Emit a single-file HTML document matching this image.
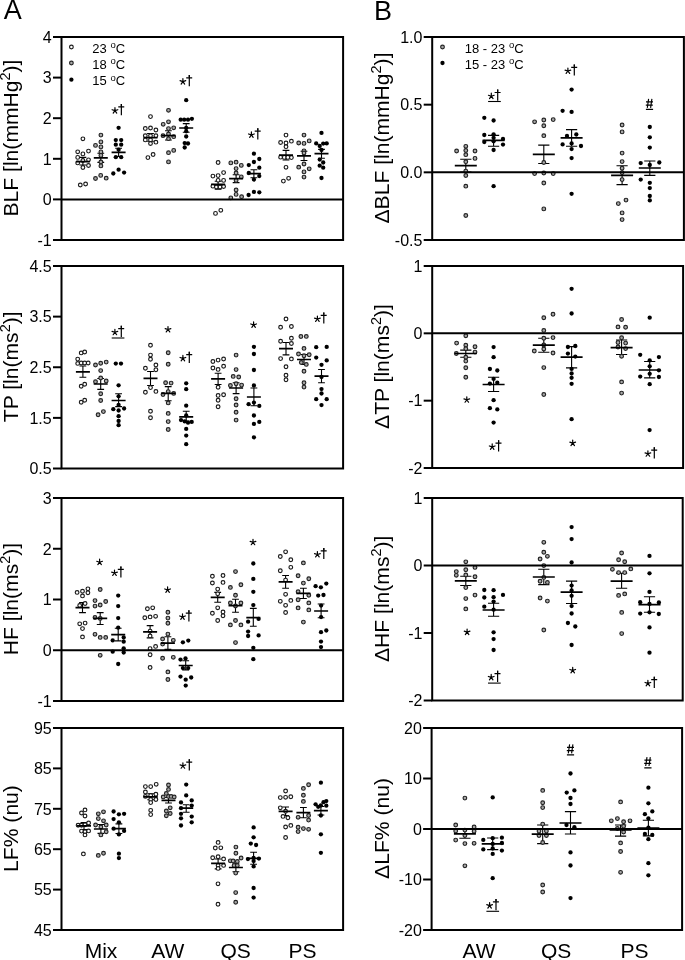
<!DOCTYPE html>
<html><head><meta charset="utf-8"><style>
html,body{margin:0;padding:0;background:#fff;}
svg{display:block;will-change:transform;}
</style></head><body>
<svg width="685" height="960" viewBox="0 0 685 960" font-family='"Liberation Sans", sans-serif'>
<rect width="685" height="960" fill="#fff"/>
<g fill="none"><path d="M82.9 157.4V165.0M79.5 157.4H86.3M79.5 165.0H86.3" stroke="#000" stroke-width="1.1" fill="none"/><path d="M100.8 153.2V162.4M97.4 153.2H104.2M97.4 162.4H104.2" stroke="#000" stroke-width="1.1" fill="none"/><path d="M118.6 148.3V156.5M115.2 148.3H122.0M115.2 156.5H122.0" stroke="#000" stroke-width="1.1" fill="none"/><path d="M150.5 133.5V141.3M147.1 133.5H153.9M147.1 141.3H153.9" stroke="#000" stroke-width="1.1" fill="none"/><path d="M168.4 130.8V140.0M165.0 130.8H171.8M165.0 140.0H171.8" stroke="#000" stroke-width="1.1" fill="none"/><path d="M186.2 123.6V132.2M182.8 123.6H189.6M182.8 132.2H189.6" stroke="#000" stroke-width="1.1" fill="none"/><path d="M218.1 181.3V189.2M214.7 181.3H221.5M214.7 189.2H221.5" stroke="#000" stroke-width="1.1" fill="none"/><path d="M236.1 174.7V182.6M232.7 174.7H239.5M232.7 182.6H239.5" stroke="#000" stroke-width="1.1" fill="none"/><path d="M253.9 169.7V177.8M250.5 169.7H257.3M250.5 177.8H257.3" stroke="#000" stroke-width="1.1" fill="none"/><path d="M286.0 150.4V160.0M282.6 150.4H289.4M282.6 160.0H289.4" stroke="#000" stroke-width="1.1" fill="none"/><path d="M304.0 151.3V160.5M300.6 151.3H307.4M300.6 160.5H307.4" stroke="#000" stroke-width="1.1" fill="none"/><path d="M321.5 149.4V158.3M318.1 149.4H324.9M318.1 158.3H324.9" stroke="#000" stroke-width="1.1" fill="none"/><path d="M82.9 366.0V377.3M79.5 366.0H86.3M79.5 377.3H86.3" stroke="#000" stroke-width="1.1" fill="none"/><path d="M100.7 378.5V389.4M97.3 378.5H104.1M97.3 389.4H104.1" stroke="#000" stroke-width="1.1" fill="none"/><path d="M118.6 393.8V406.6M115.2 393.8H122.0M115.2 406.6H122.0" stroke="#000" stroke-width="1.1" fill="none"/><path d="M150.5 371.5V385.5M147.1 371.5H153.9M147.1 385.5H153.9" stroke="#000" stroke-width="1.1" fill="none"/><path d="M168.2 386.6V400.8M164.8 386.6H171.6M164.8 400.8H171.6" stroke="#000" stroke-width="1.1" fill="none"/><path d="M186.2 411.3V421.0M182.8 411.3H189.6M182.8 421.0H189.6" stroke="#000" stroke-width="1.1" fill="none"/><path d="M218.1 373.2V384.5M214.7 373.2H221.5M214.7 384.5H221.5" stroke="#000" stroke-width="1.1" fill="none"/><path d="M236.1 382.7V393.6M232.7 382.7H239.5M232.7 393.6H239.5" stroke="#000" stroke-width="1.1" fill="none"/><path d="M253.9 388.0V405.7M250.5 388.0H257.3M250.5 405.7H257.3" stroke="#000" stroke-width="1.1" fill="none"/><path d="M286.0 342.5V354.9M282.6 342.5H289.4M282.6 354.9H289.4" stroke="#000" stroke-width="1.1" fill="none"/><path d="M304.0 354.5V364.5M300.6 354.5H307.4M300.6 364.5H307.4" stroke="#000" stroke-width="1.1" fill="none"/><path d="M321.5 369.5V382.7M318.1 369.5H324.9M318.1 382.7H324.9" stroke="#000" stroke-width="1.1" fill="none"/><path d="M82.5 602.6V612.6M79.1 602.6H85.9M79.1 612.6H85.9" stroke="#000" stroke-width="1.1" fill="none"/><path d="M100.2 612.6V624.5M96.8 612.6H103.6M96.8 624.5H103.6" stroke="#000" stroke-width="1.1" fill="none"/><path d="M118.2 628.2V640.9M114.8 628.2H121.6M114.8 640.9H121.6" stroke="#000" stroke-width="1.1" fill="none"/><path d="M150.1 625.6V637.9M146.7 625.6H153.5M146.7 637.9H153.5" stroke="#000" stroke-width="1.1" fill="none"/><path d="M167.9 636.8V649.4M164.5 636.8H171.3M164.5 649.4H171.3" stroke="#000" stroke-width="1.1" fill="none"/><path d="M185.7 660.7V669.9M182.3 660.7H189.1M182.3 669.9H189.1" stroke="#000" stroke-width="1.1" fill="none"/><path d="M217.7 592.4V602.3M214.3 592.4H221.1M214.3 602.3H221.1" stroke="#000" stroke-width="1.1" fill="none"/><path d="M235.5 599.3V612.3M232.1 599.3H238.9M232.1 612.3H238.9" stroke="#000" stroke-width="1.1" fill="none"/><path d="M253.3 608.4V626.3M249.9 608.4H256.7M249.9 626.3H256.7" stroke="#000" stroke-width="1.1" fill="none"/><path d="M285.6 575.5V588.2M282.2 575.5H289.0M282.2 588.2H289.0" stroke="#000" stroke-width="1.1" fill="none"/><path d="M303.4 588.3V598.5M300.0 588.3H306.8M300.0 598.5H306.8" stroke="#000" stroke-width="1.1" fill="none"/><path d="M321.1 604.0V617.8M317.7 604.0H324.5M317.7 617.8H324.5" stroke="#000" stroke-width="1.1" fill="none"/><path d="M84.0 822.6V829.5M80.6 822.6H87.4M80.6 829.5H87.4" stroke="#000" stroke-width="1.1" fill="none"/><path d="M100.9 824.5V833.4M97.5 824.5H104.3M97.5 833.4H104.3" stroke="#000" stroke-width="1.1" fill="none"/><path d="M118.9 823.9V833.5M115.5 823.9H122.3M115.5 833.5H122.3" stroke="#000" stroke-width="1.1" fill="none"/><path d="M150.7 793.8V799.8M147.3 793.8H154.1M147.3 799.8H154.1" stroke="#000" stroke-width="1.1" fill="none"/><path d="M168.5 797.5V803.0M165.1 797.5H171.9M165.1 803.0H171.9" stroke="#000" stroke-width="1.1" fill="none"/><path d="M186.2 804.7V812.2M182.8 804.7H189.6M182.8 812.2H189.6" stroke="#000" stroke-width="1.1" fill="none"/><path d="M218.1 859.0V868.9M214.7 859.0H221.5M214.7 868.9H221.5" stroke="#000" stroke-width="1.1" fill="none"/><path d="M235.9 863.2V871.7M232.5 863.2H239.3M232.5 871.7H239.3" stroke="#000" stroke-width="1.1" fill="none"/><path d="M253.6 852.3V864.2M250.2 852.3H257.0M250.2 864.2H257.0" stroke="#000" stroke-width="1.1" fill="none"/><path d="M285.6 807.0V815.6M282.2 807.0H289.0M282.2 815.6H289.0" stroke="#000" stroke-width="1.1" fill="none"/><path d="M303.4 807.5V817.7M300.0 807.5H306.8M300.0 817.7H306.8" stroke="#000" stroke-width="1.1" fill="none"/><path d="M320.9 806.5V815.0M317.5 806.5H324.3M317.5 815.0H324.3" stroke="#000" stroke-width="1.1" fill="none"/><path d="M465.8 159.3V172.0M460.2 159.3H471.4M460.2 172.0H471.4" stroke="#000" stroke-width="1.1" fill="none"/><path d="M493.6 135.4V146.2M488.0 135.4H499.2M488.0 146.2H499.2" stroke="#000" stroke-width="1.1" fill="none"/><path d="M543.8 145.1V163.5M538.2 145.1H549.4M538.2 163.5H549.4" stroke="#000" stroke-width="1.1" fill="none"/><path d="M571.6 129.6V146.2M566.0 129.6H577.2M566.0 146.2H577.2" stroke="#000" stroke-width="1.1" fill="none"/><path d="M622.1 165.7V184.6M616.5 165.7H627.7M616.5 184.6H627.7" stroke="#000" stroke-width="1.1" fill="none"/><path d="M649.8 161.0V175.4M644.2 161.0H655.4M644.2 175.4H655.4" stroke="#000" stroke-width="1.1" fill="none"/><path d="M465.8 350.1V357.3M460.2 350.1H471.4M460.2 357.3H471.4" stroke="#000" stroke-width="1.1" fill="none"/><path d="M493.6 377.3V391.5M488.0 377.3H499.2M488.0 391.5H499.2" stroke="#000" stroke-width="1.1" fill="none"/><path d="M543.8 338.2V352.3M538.2 338.2H549.4M538.2 352.3H549.4" stroke="#000" stroke-width="1.1" fill="none"/><path d="M571.6 346.6V367.9M566.0 346.6H577.2M566.0 367.9H577.2" stroke="#000" stroke-width="1.1" fill="none"/><path d="M621.6 340.0V354.5M616.0 340.0H627.2M616.0 354.5H627.2" stroke="#000" stroke-width="1.1" fill="none"/><path d="M649.7 361.5V377.9M644.1 361.5H655.3M644.1 377.9H655.3" stroke="#000" stroke-width="1.1" fill="none"/><path d="M465.8 576.2V585.5M460.2 576.2H471.4M460.2 585.5H471.4" stroke="#000" stroke-width="1.1" fill="none"/><path d="M493.6 603.3V616.3M488.0 603.3H499.2M488.0 616.3H499.2" stroke="#000" stroke-width="1.1" fill="none"/><path d="M543.8 569.3V584.6M538.2 569.3H549.4M538.2 584.6H549.4" stroke="#000" stroke-width="1.1" fill="none"/><path d="M571.6 581.1V603.5M566.0 581.1H577.2M566.0 603.5H577.2" stroke="#000" stroke-width="1.1" fill="none"/><path d="M621.6 573.3V588.3M616.0 573.3H627.2M616.0 588.3H627.2" stroke="#000" stroke-width="1.1" fill="none"/><path d="M649.5 596.8V612.3M643.9 596.8H655.1M643.9 612.3H655.1" stroke="#000" stroke-width="1.1" fill="none"/><path d="M464.9 828.5V838.3M459.3 828.5H470.5M459.3 838.3H470.5" stroke="#000" stroke-width="1.1" fill="none"/><path d="M492.7 838.0V849.6M487.1 838.0H498.3M487.1 849.6H498.3" stroke="#000" stroke-width="1.1" fill="none"/><path d="M542.7 825.0V843.6M537.1 825.0H548.3M537.1 843.6H548.3" stroke="#000" stroke-width="1.1" fill="none"/><path d="M570.5 811.6V834.0M564.9 811.6H576.1M564.9 834.0H576.1" stroke="#000" stroke-width="1.1" fill="none"/><path d="M620.6 825.0V836.1M615.0 825.0H626.2M615.0 836.1H626.2" stroke="#000" stroke-width="1.1" fill="none"/><path d="M648.4 820.3V835.9M642.8 820.3H654.0M642.8 835.9H654.0" stroke="#000" stroke-width="1.1" fill="none"/></g>
<g fill="#fff" stroke="#1a1a1a" stroke-width="1.15"><circle cx="82.9" cy="138.8" r="1.85"/><circle cx="77.7" cy="151.8" r="1.85"/><circle cx="82.9" cy="153.9" r="1.85"/><circle cx="88.5" cy="151.1" r="1.85"/><circle cx="77.7" cy="157.4" r="1.85"/><circle cx="82.9" cy="160.5" r="1.85"/><circle cx="88.5" cy="159.8" r="1.85"/><circle cx="77.7" cy="162.9" r="1.85"/><circle cx="82.9" cy="167.5" r="1.85"/><circle cx="88.5" cy="165.5" r="1.85"/><circle cx="80.3" cy="185.0" r="1.85"/><circle cx="85.6" cy="184.0" r="1.85"/><circle cx="150.5" cy="116.6" r="1.85"/><circle cx="145.3" cy="128.5" r="1.85"/><circle cx="150.5" cy="128.0" r="1.85"/><circle cx="155.9" cy="130.0" r="1.85"/><circle cx="145.3" cy="135.7" r="1.85"/><circle cx="150.5" cy="135.7" r="1.85"/><circle cx="155.9" cy="135.7" r="1.85"/><circle cx="145.3" cy="139.9" r="1.85"/><circle cx="150.5" cy="139.9" r="1.85"/><circle cx="150.5" cy="143.5" r="1.85"/><circle cx="155.9" cy="142.2" r="1.85"/><circle cx="147.9" cy="157.6" r="1.85"/><circle cx="153.1" cy="154.5" r="1.85"/><circle cx="218.1" cy="162.5" r="1.85"/><circle cx="212.9" cy="176.1" r="1.85"/><circle cx="218.1" cy="175.6" r="1.85"/><circle cx="223.6" cy="172.6" r="1.85"/><circle cx="218.1" cy="180.3" r="1.85"/><circle cx="223.6" cy="180.4" r="1.85"/><circle cx="212.9" cy="186.2" r="1.85"/><circle cx="216.4" cy="187.0" r="1.85"/><circle cx="220.0" cy="187.0" r="1.85"/><circle cx="223.6" cy="186.5" r="1.85"/><circle cx="215.5" cy="213.4" r="1.85"/><circle cx="220.8" cy="210.3" r="1.85"/><circle cx="286.0" cy="135.1" r="1.85"/><circle cx="280.6" cy="142.5" r="1.85"/><circle cx="286.0" cy="143.0" r="1.85"/><circle cx="291.4" cy="141.2" r="1.85"/><circle cx="286.0" cy="146.7" r="1.85"/><circle cx="280.6" cy="157.2" r="1.85"/><circle cx="284.3" cy="157.4" r="1.85"/><circle cx="287.8" cy="157.4" r="1.85"/><circle cx="291.4" cy="157.6" r="1.85"/><circle cx="286.0" cy="167.3" r="1.85"/><circle cx="283.4" cy="181.1" r="1.85"/><circle cx="288.6" cy="178.3" r="1.85"/><circle cx="81.2" cy="352.9" r="1.85"/><circle cx="84.7" cy="352.0" r="1.85"/><circle cx="77.7" cy="359.1" r="1.85"/><circle cx="77.7" cy="363.4" r="1.85"/><circle cx="81.2" cy="363.0" r="1.85"/><circle cx="84.7" cy="363.0" r="1.85"/><circle cx="88.2" cy="363.0" r="1.85"/><circle cx="81.2" cy="386.2" r="1.85"/><circle cx="84.7" cy="384.2" r="1.85"/><circle cx="81.2" cy="402.2" r="1.85"/><circle cx="84.7" cy="400.2" r="1.85"/><circle cx="150.5" cy="345.2" r="1.85"/><circle cx="150.5" cy="355.1" r="1.85"/><circle cx="150.5" cy="359.2" r="1.85"/><circle cx="145.4" cy="368.3" r="1.85"/><circle cx="155.9" cy="364.9" r="1.85"/><circle cx="155.9" cy="369.7" r="1.85"/><circle cx="150.5" cy="387.6" r="1.85"/><circle cx="145.4" cy="392.3" r="1.85"/><circle cx="155.9" cy="391.4" r="1.85"/><circle cx="150.5" cy="411.3" r="1.85"/><circle cx="150.5" cy="417.7" r="1.85"/><circle cx="212.9" cy="361.5" r="1.85"/><circle cx="218.1" cy="360.1" r="1.85"/><circle cx="223.6" cy="359.0" r="1.85"/><circle cx="212.9" cy="368.0" r="1.85"/><circle cx="218.1" cy="369.4" r="1.85"/><circle cx="223.6" cy="366.2" r="1.85"/><circle cx="218.1" cy="387.3" r="1.85"/><circle cx="218.1" cy="395.4" r="1.85"/><circle cx="223.6" cy="394.7" r="1.85"/><circle cx="218.1" cy="400.2" r="1.85"/><circle cx="218.1" cy="406.8" r="1.85"/><circle cx="286.0" cy="319.0" r="1.85"/><circle cx="280.6" cy="327.3" r="1.85"/><circle cx="291.4" cy="326.5" r="1.85"/><circle cx="291.4" cy="338.3" r="1.85"/><circle cx="280.6" cy="341.3" r="1.85"/><circle cx="291.4" cy="343.5" r="1.85"/><circle cx="280.6" cy="358.6" r="1.85"/><circle cx="291.4" cy="358.9" r="1.85"/><circle cx="286.0" cy="366.8" r="1.85"/><circle cx="286.0" cy="375.2" r="1.85"/><circle cx="286.0" cy="379.7" r="1.85"/><circle cx="77.1" cy="592.4" r="1.85"/><circle cx="82.5" cy="591.2" r="1.85"/><circle cx="87.9" cy="588.8" r="1.85"/><circle cx="87.9" cy="592.7" r="1.85"/><circle cx="82.5" cy="595.9" r="1.85"/><circle cx="79.7" cy="605.4" r="1.85"/><circle cx="85.1" cy="603.5" r="1.85"/><circle cx="79.7" cy="623.8" r="1.85"/><circle cx="85.1" cy="623.1" r="1.85"/><circle cx="82.5" cy="628.6" r="1.85"/><circle cx="82.5" cy="636.9" r="1.85"/><circle cx="147.4" cy="608.7" r="1.85"/><circle cx="152.7" cy="607.8" r="1.85"/><circle cx="144.8" cy="617.7" r="1.85"/><circle cx="150.1" cy="616.9" r="1.85"/><circle cx="155.6" cy="616.3" r="1.85"/><circle cx="150.1" cy="631.1" r="1.85"/><circle cx="150.1" cy="635.9" r="1.85"/><circle cx="150.1" cy="648.6" r="1.85"/><circle cx="155.6" cy="646.4" r="1.85"/><circle cx="150.1" cy="654.7" r="1.85"/><circle cx="150.1" cy="667.5" r="1.85"/><circle cx="212.4" cy="576.2" r="1.85"/><circle cx="223.0" cy="575.5" r="1.85"/><circle cx="212.4" cy="583.0" r="1.85"/><circle cx="223.0" cy="582.4" r="1.85"/><circle cx="217.7" cy="589.1" r="1.85"/><circle cx="217.7" cy="593.8" r="1.85"/><circle cx="217.7" cy="607.8" r="1.85"/><circle cx="212.4" cy="613.2" r="1.85"/><circle cx="223.0" cy="611.9" r="1.85"/><circle cx="223.0" cy="615.8" r="1.85"/><circle cx="217.7" cy="620.5" r="1.85"/><circle cx="285.6" cy="551.8" r="1.85"/><circle cx="280.3" cy="556.5" r="1.85"/><circle cx="290.8" cy="559.7" r="1.85"/><circle cx="290.8" cy="567.3" r="1.85"/><circle cx="280.3" cy="570.7" r="1.85"/><circle cx="285.6" cy="580.1" r="1.85"/><circle cx="285.6" cy="594.3" r="1.85"/><circle cx="280.3" cy="601.3" r="1.85"/><circle cx="290.8" cy="600.4" r="1.85"/><circle cx="285.6" cy="605.3" r="1.85"/><circle cx="285.6" cy="612.5" r="1.85"/><circle cx="85.0" cy="809.9" r="1.85"/><circle cx="81.5" cy="813.0" r="1.85"/><circle cx="85.0" cy="816.0" r="1.85"/><circle cx="78.1" cy="825.2" r="1.85"/><circle cx="81.5" cy="825.2" r="1.85"/><circle cx="85.0" cy="824.8" r="1.85"/><circle cx="88.6" cy="822.9" r="1.85"/><circle cx="81.5" cy="831.1" r="1.85"/><circle cx="85.0" cy="831.8" r="1.85"/><circle cx="88.6" cy="830.9" r="1.85"/><circle cx="85.0" cy="834.9" r="1.85"/><circle cx="83.4" cy="853.9" r="1.85"/><circle cx="145.4" cy="786.6" r="1.85"/><circle cx="150.7" cy="786.6" r="1.85"/><circle cx="156.2" cy="784.3" r="1.85"/><circle cx="145.4" cy="791.9" r="1.85"/><circle cx="145.4" cy="796.4" r="1.85"/><circle cx="150.7" cy="795.5" r="1.85"/><circle cx="155.9" cy="794.2" r="1.85"/><circle cx="155.9" cy="799.5" r="1.85"/><circle cx="150.7" cy="799.5" r="1.85"/><circle cx="150.7" cy="802.6" r="1.85"/><circle cx="150.7" cy="810.3" r="1.85"/><circle cx="150.7" cy="814.6" r="1.85"/><circle cx="218.1" cy="842.4" r="1.85"/><circle cx="215.3" cy="848.0" r="1.85"/><circle cx="220.8" cy="847.8" r="1.85"/><circle cx="212.7" cy="857.7" r="1.85"/><circle cx="218.1" cy="856.7" r="1.85"/><circle cx="223.6" cy="858.9" r="1.85"/><circle cx="218.1" cy="865.6" r="1.85"/><circle cx="223.6" cy="865.4" r="1.85"/><circle cx="218.1" cy="868.4" r="1.85"/><circle cx="218.0" cy="883.8" r="1.85"/><circle cx="218.0" cy="904.2" r="1.85"/><circle cx="285.6" cy="791.0" r="1.85"/><circle cx="280.3" cy="797.6" r="1.85"/><circle cx="285.6" cy="797.3" r="1.85"/><circle cx="290.8" cy="796.7" r="1.85"/><circle cx="280.3" cy="807.8" r="1.85"/><circle cx="285.6" cy="811.2" r="1.85"/><circle cx="283.0" cy="816.4" r="1.85"/><circle cx="287.9" cy="817.7" r="1.85"/><circle cx="285.6" cy="827.0" r="1.85"/><circle cx="290.8" cy="825.4" r="1.85"/><circle cx="285.6" cy="837.5" r="1.85"/></g>
<g fill="#a8a8a8" stroke="#222" stroke-width="1.15"><circle cx="100.9" cy="135.1" r="1.85"/><circle cx="100.9" cy="141.9" r="1.85"/><circle cx="95.5" cy="145.4" r="1.85"/><circle cx="100.9" cy="146.9" r="1.85"/><circle cx="100.9" cy="151.9" r="1.85"/><circle cx="100.9" cy="155.4" r="1.85"/><circle cx="100.9" cy="162.0" r="1.85"/><circle cx="100.9" cy="165.9" r="1.85"/><circle cx="95.5" cy="178.5" r="1.85"/><circle cx="100.7" cy="175.4" r="1.85"/><circle cx="106.2" cy="178.2" r="1.85"/><circle cx="168.5" cy="110.3" r="1.85"/><circle cx="168.5" cy="121.8" r="1.85"/><circle cx="163.2" cy="124.3" r="1.85"/><circle cx="168.5" cy="128.6" r="1.85"/><circle cx="173.7" cy="127.8" r="1.85"/><circle cx="163.0" cy="135.7" r="1.85"/><circle cx="168.5" cy="134.0" r="1.85"/><circle cx="173.7" cy="136.7" r="1.85"/><circle cx="168.5" cy="138.7" r="1.85"/><circle cx="168.5" cy="152.7" r="1.85"/><circle cx="173.7" cy="150.4" r="1.85"/><circle cx="168.5" cy="161.9" r="1.85"/><circle cx="230.8" cy="162.9" r="1.85"/><circle cx="236.1" cy="162.2" r="1.85"/><circle cx="241.3" cy="165.4" r="1.85"/><circle cx="236.1" cy="168.6" r="1.85"/><circle cx="236.1" cy="173.0" r="1.85"/><circle cx="241.3" cy="176.9" r="1.85"/><circle cx="236.1" cy="180.4" r="1.85"/><circle cx="236.1" cy="190.0" r="1.85"/><circle cx="236.1" cy="194.4" r="1.85"/><circle cx="230.8" cy="197.9" r="1.85"/><circle cx="241.6" cy="196.7" r="1.85"/><circle cx="304.0" cy="135.1" r="1.85"/><circle cx="298.7" cy="143.0" r="1.85"/><circle cx="304.0" cy="143.4" r="1.85"/><circle cx="309.2" cy="140.9" r="1.85"/><circle cx="304.0" cy="150.8" r="1.85"/><circle cx="304.0" cy="153.0" r="1.85"/><circle cx="304.0" cy="164.0" r="1.85"/><circle cx="298.7" cy="167.2" r="1.85"/><circle cx="309.2" cy="168.8" r="1.85"/><circle cx="304.0" cy="171.9" r="1.85"/><circle cx="304.0" cy="177.1" r="1.85"/><circle cx="95.5" cy="365.0" r="1.85"/><circle cx="100.7" cy="363.3" r="1.85"/><circle cx="106.2" cy="362.1" r="1.85"/><circle cx="100.7" cy="370.6" r="1.85"/><circle cx="100.7" cy="378.0" r="1.85"/><circle cx="95.5" cy="381.8" r="1.85"/><circle cx="106.2" cy="381.0" r="1.85"/><circle cx="100.7" cy="393.8" r="1.85"/><circle cx="100.7" cy="400.5" r="1.85"/><circle cx="98.1" cy="414.7" r="1.85"/><circle cx="103.4" cy="411.6" r="1.85"/><circle cx="168.2" cy="352.7" r="1.85"/><circle cx="168.2" cy="364.2" r="1.85"/><circle cx="165.6" cy="382.7" r="1.85"/><circle cx="171.1" cy="383.1" r="1.85"/><circle cx="168.2" cy="391.6" r="1.85"/><circle cx="163.0" cy="394.5" r="1.85"/><circle cx="173.7" cy="393.4" r="1.85"/><circle cx="168.2" cy="402.9" r="1.85"/><circle cx="168.2" cy="413.4" r="1.85"/><circle cx="168.2" cy="421.6" r="1.85"/><circle cx="168.2" cy="429.5" r="1.85"/><circle cx="236.1" cy="355.1" r="1.85"/><circle cx="236.1" cy="369.6" r="1.85"/><circle cx="233.2" cy="376.4" r="1.85"/><circle cx="238.7" cy="377.0" r="1.85"/><circle cx="230.4" cy="385.5" r="1.85"/><circle cx="236.1" cy="383.8" r="1.85"/><circle cx="241.6" cy="385.1" r="1.85"/><circle cx="236.1" cy="398.7" r="1.85"/><circle cx="236.1" cy="405.0" r="1.85"/><circle cx="236.1" cy="412.2" r="1.85"/><circle cx="236.1" cy="420.1" r="1.85"/><circle cx="300.9" cy="336.5" r="1.85"/><circle cx="306.3" cy="336.4" r="1.85"/><circle cx="304.0" cy="348.4" r="1.85"/><circle cx="298.5" cy="354.0" r="1.85"/><circle cx="304.0" cy="355.8" r="1.85"/><circle cx="309.2" cy="354.8" r="1.85"/><circle cx="301.3" cy="362.4" r="1.85"/><circle cx="306.3" cy="364.4" r="1.85"/><circle cx="304.0" cy="371.2" r="1.85"/><circle cx="304.0" cy="382.8" r="1.85"/><circle cx="304.0" cy="387.1" r="1.85"/><circle cx="100.2" cy="589.5" r="1.85"/><circle cx="95.0" cy="600.6" r="1.85"/><circle cx="105.7" cy="601.5" r="1.85"/><circle cx="95.0" cy="606.1" r="1.85"/><circle cx="100.2" cy="605.0" r="1.85"/><circle cx="95.0" cy="617.5" r="1.85"/><circle cx="100.2" cy="618.4" r="1.85"/><circle cx="95.0" cy="634.3" r="1.85"/><circle cx="100.2" cy="637.4" r="1.85"/><circle cx="105.7" cy="637.4" r="1.85"/><circle cx="100.2" cy="655.3" r="1.85"/><circle cx="167.9" cy="612.2" r="1.85"/><circle cx="167.9" cy="618.1" r="1.85"/><circle cx="167.9" cy="623.2" r="1.85"/><circle cx="167.9" cy="634.1" r="1.85"/><circle cx="162.6" cy="638.9" r="1.85"/><circle cx="173.3" cy="640.3" r="1.85"/><circle cx="162.6" cy="644.1" r="1.85"/><circle cx="162.6" cy="658.2" r="1.85"/><circle cx="173.3" cy="657.3" r="1.85"/><circle cx="167.9" cy="671.9" r="1.85"/><circle cx="167.9" cy="679.5" r="1.85"/><circle cx="235.5" cy="571.6" r="1.85"/><circle cx="230.4" cy="587.4" r="1.85"/><circle cx="240.9" cy="584.7" r="1.85"/><circle cx="235.5" cy="595.2" r="1.85"/><circle cx="230.4" cy="603.0" r="1.85"/><circle cx="240.9" cy="603.0" r="1.85"/><circle cx="235.5" cy="606.0" r="1.85"/><circle cx="235.5" cy="620.5" r="1.85"/><circle cx="230.4" cy="624.9" r="1.85"/><circle cx="240.9" cy="624.9" r="1.85"/><circle cx="235.5" cy="642.6" r="1.85"/><circle cx="303.4" cy="562.9" r="1.85"/><circle cx="298.1" cy="575.7" r="1.85"/><circle cx="308.8" cy="578.7" r="1.85"/><circle cx="303.4" cy="583.1" r="1.85"/><circle cx="298.1" cy="591.7" r="1.85"/><circle cx="308.8" cy="595.2" r="1.85"/><circle cx="298.1" cy="599.7" r="1.85"/><circle cx="308.8" cy="602.9" r="1.85"/><circle cx="298.1" cy="607.9" r="1.85"/><circle cx="308.8" cy="609.9" r="1.85"/><circle cx="303.4" cy="622.1" r="1.85"/><circle cx="103.5" cy="811.8" r="1.85"/><circle cx="98.3" cy="813.8" r="1.85"/><circle cx="98.3" cy="818.6" r="1.85"/><circle cx="103.5" cy="820.8" r="1.85"/><circle cx="95.6" cy="825.0" r="1.85"/><circle cx="106.2" cy="825.0" r="1.85"/><circle cx="100.9" cy="827.0" r="1.85"/><circle cx="106.2" cy="831.8" r="1.85"/><circle cx="100.9" cy="834.9" r="1.85"/><circle cx="98.3" cy="855.4" r="1.85"/><circle cx="103.5" cy="853.2" r="1.85"/><circle cx="168.5" cy="784.9" r="1.85"/><circle cx="168.5" cy="789.4" r="1.85"/><circle cx="166.3" cy="793.4" r="1.85"/><circle cx="163.2" cy="796.9" r="1.85"/><circle cx="168.5" cy="796.4" r="1.85"/><circle cx="171.1" cy="796.4" r="1.85"/><circle cx="174.2" cy="796.9" r="1.85"/><circle cx="170.2" cy="807.8" r="1.85"/><circle cx="166.3" cy="810.9" r="1.85"/><circle cx="170.2" cy="813.5" r="1.85"/><circle cx="166.3" cy="815.7" r="1.85"/><circle cx="235.9" cy="847.1" r="1.85"/><circle cx="235.9" cy="853.2" r="1.85"/><circle cx="241.1" cy="858.0" r="1.85"/><circle cx="230.3" cy="860.8" r="1.85"/><circle cx="233.1" cy="861.0" r="1.85"/><circle cx="237.3" cy="861.4" r="1.85"/><circle cx="234.1" cy="865.6" r="1.85"/><circle cx="237.3" cy="865.6" r="1.85"/><circle cx="235.7" cy="873.1" r="1.85"/><circle cx="235.7" cy="892.6" r="1.85"/><circle cx="235.7" cy="902.2" r="1.85"/><circle cx="308.6" cy="784.7" r="1.85"/><circle cx="303.4" cy="788.4" r="1.85"/><circle cx="303.4" cy="795.2" r="1.85"/><circle cx="303.4" cy="801.4" r="1.85"/><circle cx="298.1" cy="817.3" r="1.85"/><circle cx="308.6" cy="815.5" r="1.85"/><circle cx="308.6" cy="820.1" r="1.85"/><circle cx="298.1" cy="827.2" r="1.85"/><circle cx="303.4" cy="828.6" r="1.85"/><circle cx="308.6" cy="829.3" r="1.85"/><circle cx="298.1" cy="831.6" r="1.85"/><circle cx="465.8" cy="146.3" r="1.85"/><circle cx="456.6" cy="151.0" r="1.85"/><circle cx="465.8" cy="150.5" r="1.85"/><circle cx="475.0" cy="151.0" r="1.85"/><circle cx="465.8" cy="154.7" r="1.85"/><circle cx="475.0" cy="158.4" r="1.85"/><circle cx="465.8" cy="161.7" r="1.85"/><circle cx="465.8" cy="171.1" r="1.85"/><circle cx="465.8" cy="175.5" r="1.85"/><circle cx="465.8" cy="186.2" r="1.85"/><circle cx="465.8" cy="215.5" r="1.85"/><circle cx="534.6" cy="121.8" r="1.85"/><circle cx="543.8" cy="120.0" r="1.85"/><circle cx="553.2" cy="119.6" r="1.85"/><circle cx="543.8" cy="125.7" r="1.85"/><circle cx="543.8" cy="135.7" r="1.85"/><circle cx="543.8" cy="162.5" r="1.85"/><circle cx="534.6" cy="173.6" r="1.85"/><circle cx="543.8" cy="173.0" r="1.85"/><circle cx="553.2" cy="173.6" r="1.85"/><circle cx="543.8" cy="183.0" r="1.85"/><circle cx="543.8" cy="208.9" r="1.85"/><circle cx="622.1" cy="125.0" r="1.85"/><circle cx="622.1" cy="131.9" r="1.85"/><circle cx="622.1" cy="153.1" r="1.85"/><circle cx="622.1" cy="161.6" r="1.85"/><circle cx="622.1" cy="168.2" r="1.85"/><circle cx="622.1" cy="172.6" r="1.85"/><circle cx="622.1" cy="179.6" r="1.85"/><circle cx="626.0" cy="200.1" r="1.85"/><circle cx="618.3" cy="203.6" r="1.85"/><circle cx="622.1" cy="212.9" r="1.85"/><circle cx="622.1" cy="219.6" r="1.85"/><circle cx="465.8" cy="335.7" r="1.85"/><circle cx="456.6" cy="343.1" r="1.85"/><circle cx="465.8" cy="345.3" r="1.85"/><circle cx="475.0" cy="346.8" r="1.85"/><circle cx="465.8" cy="348.8" r="1.85"/><circle cx="456.3" cy="353.5" r="1.85"/><circle cx="475.0" cy="352.1" r="1.85"/><circle cx="465.8" cy="357.2" r="1.85"/><circle cx="465.8" cy="361.1" r="1.85"/><circle cx="465.8" cy="367.7" r="1.85"/><circle cx="465.8" cy="377.3" r="1.85"/><circle cx="543.8" cy="317.7" r="1.85"/><circle cx="553.0" cy="314.2" r="1.85"/><circle cx="543.8" cy="330.4" r="1.85"/><circle cx="543.8" cy="338.2" r="1.85"/><circle cx="553.0" cy="337.6" r="1.85"/><circle cx="543.8" cy="345.0" r="1.85"/><circle cx="543.8" cy="349.0" r="1.85"/><circle cx="534.3" cy="351.0" r="1.85"/><circle cx="553.0" cy="353.0" r="1.85"/><circle cx="543.8" cy="367.6" r="1.85"/><circle cx="543.8" cy="394.5" r="1.85"/><circle cx="621.6" cy="319.5" r="1.85"/><circle cx="618.0" cy="326.9" r="1.85"/><circle cx="625.6" cy="327.3" r="1.85"/><circle cx="621.6" cy="337.8" r="1.85"/><circle cx="618.0" cy="342.5" r="1.85"/><circle cx="625.6" cy="343.1" r="1.85"/><circle cx="618.0" cy="347.0" r="1.85"/><circle cx="625.6" cy="348.6" r="1.85"/><circle cx="621.6" cy="356.2" r="1.85"/><circle cx="621.6" cy="381.9" r="1.85"/><circle cx="621.6" cy="393.1" r="1.85"/><circle cx="465.8" cy="561.8" r="1.85"/><circle cx="475.0" cy="567.4" r="1.85"/><circle cx="465.8" cy="569.7" r="1.85"/><circle cx="456.3" cy="571.6" r="1.85"/><circle cx="456.3" cy="575.3" r="1.85"/><circle cx="465.8" cy="575.0" r="1.85"/><circle cx="475.0" cy="576.7" r="1.85"/><circle cx="465.8" cy="587.6" r="1.85"/><circle cx="475.0" cy="595.1" r="1.85"/><circle cx="465.8" cy="598.6" r="1.85"/><circle cx="465.8" cy="608.9" r="1.85"/><circle cx="543.8" cy="542.3" r="1.85"/><circle cx="543.8" cy="552.2" r="1.85"/><circle cx="547.4" cy="556.3" r="1.85"/><circle cx="540.1" cy="559.0" r="1.85"/><circle cx="543.8" cy="565.6" r="1.85"/><circle cx="543.8" cy="577.4" r="1.85"/><circle cx="540.1" cy="581.2" r="1.85"/><circle cx="547.4" cy="582.4" r="1.85"/><circle cx="540.1" cy="598.0" r="1.85"/><circle cx="547.4" cy="601.1" r="1.85"/><circle cx="543.8" cy="630.0" r="1.85"/><circle cx="621.6" cy="553.0" r="1.85"/><circle cx="618.6" cy="559.7" r="1.85"/><circle cx="624.7" cy="561.7" r="1.85"/><circle cx="612.4" cy="569.3" r="1.85"/><circle cx="618.6" cy="572.6" r="1.85"/><circle cx="624.7" cy="572.6" r="1.85"/><circle cx="630.8" cy="568.9" r="1.85"/><circle cx="618.6" cy="595.4" r="1.85"/><circle cx="624.7" cy="593.9" r="1.85"/><circle cx="621.7" cy="612.4" r="1.85"/><circle cx="621.7" cy="633.6" r="1.85"/><circle cx="464.9" cy="798.1" r="1.85"/><circle cx="455.7" cy="825.0" r="1.85"/><circle cx="474.1" cy="827.0" r="1.85"/><circle cx="455.7" cy="831.0" r="1.85"/><circle cx="464.9" cy="830.1" r="1.85"/><circle cx="474.1" cy="831.2" r="1.85"/><circle cx="464.9" cy="835.5" r="1.85"/><circle cx="455.7" cy="840.1" r="1.85"/><circle cx="464.9" cy="843.6" r="1.85"/><circle cx="474.1" cy="843.3" r="1.85"/><circle cx="464.9" cy="865.8" r="1.85"/><circle cx="542.7" cy="790.4" r="1.85"/><circle cx="542.7" cy="802.7" r="1.85"/><circle cx="542.7" cy="807.6" r="1.85"/><circle cx="542.7" cy="824.1" r="1.85"/><circle cx="539.0" cy="831.1" r="1.85"/><circle cx="546.4" cy="831.1" r="1.85"/><circle cx="539.0" cy="835.5" r="1.85"/><circle cx="546.4" cy="835.5" r="1.85"/><circle cx="542.7" cy="842.5" r="1.85"/><circle cx="542.7" cy="885.0" r="1.85"/><circle cx="542.7" cy="892.0" r="1.85"/><circle cx="620.6" cy="801.9" r="1.85"/><circle cx="611.3" cy="820.8" r="1.85"/><circle cx="617.4" cy="818.6" r="1.85"/><circle cx="623.6" cy="821.7" r="1.85"/><circle cx="630.0" cy="820.8" r="1.85"/><circle cx="617.4" cy="828.5" r="1.85"/><circle cx="623.6" cy="826.3" r="1.85"/><circle cx="623.6" cy="832.0" r="1.85"/><circle cx="620.6" cy="842.9" r="1.85"/><circle cx="620.6" cy="851.5" r="1.85"/><circle cx="620.6" cy="872.3" r="1.85"/></g>
<g fill="#000"><circle cx="118.6" cy="127.8" r="2.15"/><circle cx="115.8" cy="140.1" r="2.15"/><circle cx="121.2" cy="140.1" r="2.15"/><circle cx="115.8" cy="144.7" r="2.15"/><circle cx="121.2" cy="144.7" r="2.15"/><circle cx="118.6" cy="149.7" r="2.15"/><circle cx="115.8" cy="157.2" r="2.15"/><circle cx="121.2" cy="157.2" r="2.15"/><circle cx="113.3" cy="173.5" r="2.15"/><circle cx="118.6" cy="169.7" r="2.15"/><circle cx="124.1" cy="172.6" r="2.15"/><circle cx="186.2" cy="100.2" r="2.15"/><circle cx="180.7" cy="119.7" r="2.15"/><circle cx="184.2" cy="119.7" r="2.15"/><circle cx="188.0" cy="119.7" r="2.15"/><circle cx="191.9" cy="118.8" r="2.15"/><circle cx="186.2" cy="128.0" r="2.15"/><circle cx="186.2" cy="131.3" r="2.15"/><circle cx="186.2" cy="136.5" r="2.15"/><circle cx="184.7" cy="143.1" r="2.15"/><circle cx="188.0" cy="143.5" r="2.15"/><circle cx="184.7" cy="147.5" r="2.15"/><circle cx="253.9" cy="153.7" r="2.15"/><circle cx="259.3" cy="159.0" r="2.15"/><circle cx="253.9" cy="162.0" r="2.15"/><circle cx="248.8" cy="165.1" r="2.15"/><circle cx="259.3" cy="167.7" r="2.15"/><circle cx="248.8" cy="173.0" r="2.15"/><circle cx="259.3" cy="176.1" r="2.15"/><circle cx="253.9" cy="179.6" r="2.15"/><circle cx="248.6" cy="195.0" r="2.15"/><circle cx="253.9" cy="191.9" r="2.15"/><circle cx="259.3" cy="192.3" r="2.15"/><circle cx="321.5" cy="132.9" r="2.15"/><circle cx="316.2" cy="143.4" r="2.15"/><circle cx="319.7" cy="146.0" r="2.15"/><circle cx="323.2" cy="143.6" r="2.15"/><circle cx="326.7" cy="143.4" r="2.15"/><circle cx="321.5" cy="150.0" r="2.15"/><circle cx="319.7" cy="159.6" r="2.15"/><circle cx="323.2" cy="162.5" r="2.15"/><circle cx="319.7" cy="165.7" r="2.15"/><circle cx="323.2" cy="167.7" r="2.15"/><circle cx="321.5" cy="178.0" r="2.15"/><circle cx="115.8" cy="363.6" r="2.15"/><circle cx="121.0" cy="363.6" r="2.15"/><circle cx="118.6" cy="385.3" r="2.15"/><circle cx="118.6" cy="396.3" r="2.15"/><circle cx="118.6" cy="404.9" r="2.15"/><circle cx="113.3" cy="409.2" r="2.15"/><circle cx="118.6" cy="410.5" r="2.15"/><circle cx="124.1" cy="408.5" r="2.15"/><circle cx="118.6" cy="416.2" r="2.15"/><circle cx="118.6" cy="421.0" r="2.15"/><circle cx="118.6" cy="425.2" r="2.15"/><circle cx="186.2" cy="383.3" r="2.15"/><circle cx="186.2" cy="389.2" r="2.15"/><circle cx="186.2" cy="405.7" r="2.15"/><circle cx="186.2" cy="415.5" r="2.15"/><circle cx="181.0" cy="420.1" r="2.15"/><circle cx="184.7" cy="421.4" r="2.15"/><circle cx="188.0" cy="422.7" r="2.15"/><circle cx="191.7" cy="421.9" r="2.15"/><circle cx="186.2" cy="428.9" r="2.15"/><circle cx="186.2" cy="435.6" r="2.15"/><circle cx="186.2" cy="444.2" r="2.15"/><circle cx="253.9" cy="346.8" r="2.15"/><circle cx="253.9" cy="354.0" r="2.15"/><circle cx="253.9" cy="370.0" r="2.15"/><circle cx="253.9" cy="385.5" r="2.15"/><circle cx="253.9" cy="402.6" r="2.15"/><circle cx="248.6" cy="404.2" r="2.15"/><circle cx="259.3" cy="405.9" r="2.15"/><circle cx="253.9" cy="415.5" r="2.15"/><circle cx="253.9" cy="423.9" r="2.15"/><circle cx="259.3" cy="421.9" r="2.15"/><circle cx="253.9" cy="437.3" r="2.15"/><circle cx="316.2" cy="347.2" r="2.15"/><circle cx="326.7" cy="346.9" r="2.15"/><circle cx="316.2" cy="357.6" r="2.15"/><circle cx="326.7" cy="360.4" r="2.15"/><circle cx="321.5" cy="364.8" r="2.15"/><circle cx="321.5" cy="377.0" r="2.15"/><circle cx="321.5" cy="389.1" r="2.15"/><circle cx="321.5" cy="393.5" r="2.15"/><circle cx="316.2" cy="399.2" r="2.15"/><circle cx="326.7" cy="399.2" r="2.15"/><circle cx="321.5" cy="405.1" r="2.15"/><circle cx="118.2" cy="595.6" r="2.15"/><circle cx="118.2" cy="606.1" r="2.15"/><circle cx="118.2" cy="618.1" r="2.15"/><circle cx="118.2" cy="627.7" r="2.15"/><circle cx="112.7" cy="640.4" r="2.15"/><circle cx="123.7" cy="637.5" r="2.15"/><circle cx="123.7" cy="641.7" r="2.15"/><circle cx="112.7" cy="651.7" r="2.15"/><circle cx="123.7" cy="648.3" r="2.15"/><circle cx="123.7" cy="652.5" r="2.15"/><circle cx="118.2" cy="664.0" r="2.15"/><circle cx="182.9" cy="642.3" r="2.15"/><circle cx="188.3" cy="640.6" r="2.15"/><circle cx="180.5" cy="659.6" r="2.15"/><circle cx="185.5" cy="658.5" r="2.15"/><circle cx="182.9" cy="668.1" r="2.15"/><circle cx="188.2" cy="668.1" r="2.15"/><circle cx="180.5" cy="676.6" r="2.15"/><circle cx="185.7" cy="679.7" r="2.15"/><circle cx="191.2" cy="677.5" r="2.15"/><circle cx="185.7" cy="685.6" r="2.15"/><circle cx="253.3" cy="563.5" r="2.15"/><circle cx="253.3" cy="578.9" r="2.15"/><circle cx="253.3" cy="591.8" r="2.15"/><circle cx="253.3" cy="605.1" r="2.15"/><circle cx="258.6" cy="618.9" r="2.15"/><circle cx="248.1" cy="621.7" r="2.15"/><circle cx="248.1" cy="631.6" r="2.15"/><circle cx="248.1" cy="636.0" r="2.15"/><circle cx="258.6" cy="635.4" r="2.15"/><circle cx="253.3" cy="647.8" r="2.15"/><circle cx="253.3" cy="659.2" r="2.15"/><circle cx="315.6" cy="586.2" r="2.15"/><circle cx="320.9" cy="587.3" r="2.15"/><circle cx="326.3" cy="583.6" r="2.15"/><circle cx="318.2" cy="595.6" r="2.15"/><circle cx="323.5" cy="595.0" r="2.15"/><circle cx="321.1" cy="605.6" r="2.15"/><circle cx="321.1" cy="617.1" r="2.15"/><circle cx="321.0" cy="632.2" r="2.15"/><circle cx="326.3" cy="630.5" r="2.15"/><circle cx="321.0" cy="641.6" r="2.15"/><circle cx="321.0" cy="647.1" r="2.15"/><circle cx="113.6" cy="811.5" r="2.15"/><circle cx="118.9" cy="814.3" r="2.15"/><circle cx="124.1" cy="813.8" r="2.15"/><circle cx="113.6" cy="819.1" r="2.15"/><circle cx="118.9" cy="822.3" r="2.15"/><circle cx="113.6" cy="828.7" r="2.15"/><circle cx="124.1" cy="830.9" r="2.15"/><circle cx="118.9" cy="834.4" r="2.15"/><circle cx="118.9" cy="853.7" r="2.15"/><circle cx="118.9" cy="858.1" r="2.15"/><circle cx="186.2" cy="784.6" r="2.15"/><circle cx="186.2" cy="795.4" r="2.15"/><circle cx="191.7" cy="800.4" r="2.15"/><circle cx="181.0" cy="802.4" r="2.15"/><circle cx="191.7" cy="805.6" r="2.15"/><circle cx="181.0" cy="808.2" r="2.15"/><circle cx="181.0" cy="813.8" r="2.15"/><circle cx="191.7" cy="816.6" r="2.15"/><circle cx="181.0" cy="818.3" r="2.15"/><circle cx="191.7" cy="822.3" r="2.15"/><circle cx="181.0" cy="825.5" r="2.15"/><circle cx="253.6" cy="827.4" r="2.15"/><circle cx="253.6" cy="837.3" r="2.15"/><circle cx="250.8" cy="843.6" r="2.15"/><circle cx="256.1" cy="845.0" r="2.15"/><circle cx="247.9" cy="859.1" r="2.15"/><circle cx="253.6" cy="857.9" r="2.15"/><circle cx="258.9" cy="858.6" r="2.15"/><circle cx="253.6" cy="861.1" r="2.15"/><circle cx="253.6" cy="866.4" r="2.15"/><circle cx="253.6" cy="888.0" r="2.15"/><circle cx="253.6" cy="897.6" r="2.15"/><circle cx="320.9" cy="782.7" r="2.15"/><circle cx="315.6" cy="804.3" r="2.15"/><circle cx="318.2" cy="806.8" r="2.15"/><circle cx="323.5" cy="802.2" r="2.15"/><circle cx="326.3" cy="801.1" r="2.15"/><circle cx="326.3" cy="805.7" r="2.15"/><circle cx="320.9" cy="805.5" r="2.15"/><circle cx="320.9" cy="815.5" r="2.15"/><circle cx="320.9" cy="834.3" r="2.15"/><circle cx="320.9" cy="852.8" r="2.15"/><circle cx="484.3" cy="117.8" r="2.15"/><circle cx="493.6" cy="120.5" r="2.15"/><circle cx="484.3" cy="135.0" r="2.15"/><circle cx="493.6" cy="134.3" r="2.15"/><circle cx="493.6" cy="137.8" r="2.15"/><circle cx="493.6" cy="141.3" r="2.15"/><circle cx="484.3" cy="142.0" r="2.15"/><circle cx="503.0" cy="138.9" r="2.15"/><circle cx="503.0" cy="144.6" r="2.15"/><circle cx="493.6" cy="150.0" r="2.15"/><circle cx="493.6" cy="186.2" r="2.15"/><circle cx="571.6" cy="89.6" r="2.15"/><circle cx="562.6" cy="110.8" r="2.15"/><circle cx="571.6" cy="111.9" r="2.15"/><circle cx="567.0" cy="135.9" r="2.15"/><circle cx="576.3" cy="134.5" r="2.15"/><circle cx="562.6" cy="144.4" r="2.15"/><circle cx="571.6" cy="143.4" r="2.15"/><circle cx="581.0" cy="146.0" r="2.15"/><circle cx="571.6" cy="149.1" r="2.15"/><circle cx="571.6" cy="158.1" r="2.15"/><circle cx="571.6" cy="193.8" r="2.15"/><circle cx="649.8" cy="127.0" r="2.15"/><circle cx="649.8" cy="137.3" r="2.15"/><circle cx="649.8" cy="147.6" r="2.15"/><circle cx="640.7" cy="163.1" r="2.15"/><circle cx="659.3" cy="162.5" r="2.15"/><circle cx="649.8" cy="165.0" r="2.15"/><circle cx="640.7" cy="179.6" r="2.15"/><circle cx="649.8" cy="182.8" r="2.15"/><circle cx="649.8" cy="188.1" r="2.15"/><circle cx="649.8" cy="196.0" r="2.15"/><circle cx="649.8" cy="200.4" r="2.15"/><circle cx="493.6" cy="347.1" r="2.15"/><circle cx="493.6" cy="357.2" r="2.15"/><circle cx="489.9" cy="369.0" r="2.15"/><circle cx="497.3" cy="370.5" r="2.15"/><circle cx="493.6" cy="378.9" r="2.15"/><circle cx="489.9" cy="383.6" r="2.15"/><circle cx="497.3" cy="382.7" r="2.15"/><circle cx="493.6" cy="400.2" r="2.15"/><circle cx="489.9" cy="408.2" r="2.15"/><circle cx="497.3" cy="409.4" r="2.15"/><circle cx="493.6" cy="422.6" r="2.15"/><circle cx="571.6" cy="288.8" r="2.15"/><circle cx="571.6" cy="313.5" r="2.15"/><circle cx="567.9" cy="347.0" r="2.15"/><circle cx="575.3" cy="346.0" r="2.15"/><circle cx="567.9" cy="353.6" r="2.15"/><circle cx="575.3" cy="356.6" r="2.15"/><circle cx="571.6" cy="368.9" r="2.15"/><circle cx="571.6" cy="373.5" r="2.15"/><circle cx="571.6" cy="377.8" r="2.15"/><circle cx="571.6" cy="383.8" r="2.15"/><circle cx="571.6" cy="419.2" r="2.15"/><circle cx="649.7" cy="317.7" r="2.15"/><circle cx="640.2" cy="354.8" r="2.15"/><circle cx="658.9" cy="357.1" r="2.15"/><circle cx="649.7" cy="360.4" r="2.15"/><circle cx="649.7" cy="366.3" r="2.15"/><circle cx="658.9" cy="370.3" r="2.15"/><circle cx="649.7" cy="373.8" r="2.15"/><circle cx="640.2" cy="376.6" r="2.15"/><circle cx="658.9" cy="377.0" r="2.15"/><circle cx="649.7" cy="384.2" r="2.15"/><circle cx="649.6" cy="430.1" r="2.15"/><circle cx="484.3" cy="590.0" r="2.15"/><circle cx="493.6" cy="590.2" r="2.15"/><circle cx="503.0" cy="594.9" r="2.15"/><circle cx="484.3" cy="597.5" r="2.15"/><circle cx="493.6" cy="597.2" r="2.15"/><circle cx="493.6" cy="601.6" r="2.15"/><circle cx="484.3" cy="606.7" r="2.15"/><circle cx="493.6" cy="609.7" r="2.15"/><circle cx="493.6" cy="632.3" r="2.15"/><circle cx="493.6" cy="639.1" r="2.15"/><circle cx="493.6" cy="650.0" r="2.15"/><circle cx="571.6" cy="527.1" r="2.15"/><circle cx="571.6" cy="539.1" r="2.15"/><circle cx="571.6" cy="562.5" r="2.15"/><circle cx="571.6" cy="585.6" r="2.15"/><circle cx="571.6" cy="590.4" r="2.15"/><circle cx="571.6" cy="595.8" r="2.15"/><circle cx="571.6" cy="606.1" r="2.15"/><circle cx="571.6" cy="613.5" r="2.15"/><circle cx="567.9" cy="623.0" r="2.15"/><circle cx="575.3" cy="626.5" r="2.15"/><circle cx="571.6" cy="645.0" r="2.15"/><circle cx="649.5" cy="555.9" r="2.15"/><circle cx="649.5" cy="573.3" r="2.15"/><circle cx="649.5" cy="591.9" r="2.15"/><circle cx="640.2" cy="602.2" r="2.15"/><circle cx="658.9" cy="602.4" r="2.15"/><circle cx="649.5" cy="603.9" r="2.15"/><circle cx="649.5" cy="612.3" r="2.15"/><circle cx="640.2" cy="613.6" r="2.15"/><circle cx="658.8" cy="614.0" r="2.15"/><circle cx="649.5" cy="627.4" r="2.15"/><circle cx="649.5" cy="652.7" r="2.15"/><circle cx="492.7" cy="797.4" r="2.15"/><circle cx="483.3" cy="839.9" r="2.15"/><circle cx="492.7" cy="838.2" r="2.15"/><circle cx="501.9" cy="837.7" r="2.15"/><circle cx="501.9" cy="843.0" r="2.15"/><circle cx="492.7" cy="843.9" r="2.15"/><circle cx="483.3" cy="849.4" r="2.15"/><circle cx="492.7" cy="848.5" r="2.15"/><circle cx="501.9" cy="850.6" r="2.15"/><circle cx="492.7" cy="853.9" r="2.15"/><circle cx="492.7" cy="878.2" r="2.15"/><circle cx="570.5" cy="773.5" r="2.15"/><circle cx="574.4" cy="790.4" r="2.15"/><circle cx="566.7" cy="792.6" r="2.15"/><circle cx="570.5" cy="798.0" r="2.15"/><circle cx="570.5" cy="804.0" r="2.15"/><circle cx="566.5" cy="825.0" r="2.15"/><circle cx="574.4" cy="827.2" r="2.15"/><circle cx="570.5" cy="852.4" r="2.15"/><circle cx="570.5" cy="865.5" r="2.15"/><circle cx="570.5" cy="898.1" r="2.15"/><circle cx="648.4" cy="787.7" r="2.15"/><circle cx="648.4" cy="803.3" r="2.15"/><circle cx="652.3" cy="811.4" r="2.15"/><circle cx="644.9" cy="814.2" r="2.15"/><circle cx="648.4" cy="818.4" r="2.15"/><circle cx="648.4" cy="827.6" r="2.15"/><circle cx="644.9" cy="834.0" r="2.15"/><circle cx="652.3" cy="834.9" r="2.15"/><circle cx="648.4" cy="839.2" r="2.15"/><circle cx="648.4" cy="863.2" r="2.15"/><circle cx="648.4" cy="875.3" r="2.15"/></g>
<path d="M75.9 161.6H89.9M93.8 157.8H107.8M111.6 152.4H125.6M143.5 137.6H157.5M161.4 135.7H175.4M179.2 128.0H193.2M211.1 184.4H225.1M229.1 178.7H243.1M246.9 173.6H260.9M279.0 155.2H293.0M297.0 155.8H311.0M314.5 153.7H328.5M75.9 371.8H89.9M93.7 384.0H107.7M111.6 400.5H125.6M143.5 378.3H157.5M161.2 393.4H175.2M179.2 416.9H193.2M211.1 378.8H225.1M229.1 388.0H243.1M246.9 397.0H260.9M279.0 348.6H293.0M297.0 359.5H311.0M314.5 376.1H328.5M75.5 607.6H89.5M93.2 618.4H107.2M111.2 634.7H125.2M143.1 631.9H157.1M160.9 643.1H174.9M178.7 665.5H192.7M210.7 597.3H224.7M228.5 605.7H242.5M246.3 617.6H260.3M278.6 581.9H292.6M296.4 593.4H310.4M314.1 611.0H328.1M77.0 825.8H91.0M93.9 829.0H107.9M111.9 828.7H125.9M143.7 796.9H157.7M161.5 800.4H175.5M179.2 808.2H193.2M211.1 863.3H225.1M228.9 867.5H242.9M246.6 858.3H260.6M278.6 811.3H292.6M296.4 812.7H310.4M313.9 810.7H327.9M454.8 165.6H476.8M482.6 140.4H504.6M532.8 154.3H554.8M560.6 137.9H582.6M611.1 175.4H633.1M638.8 168.0H660.8M454.8 353.5H476.8M482.6 384.5H504.6M532.8 345.1H554.8M560.6 357.2H582.6M610.6 347.7H632.6M638.7 370.0H660.7M454.8 580.8H476.8M482.6 610.0H504.6M532.8 577.0H554.8M560.6 592.1H582.6M610.6 581.2H632.6M638.5 604.6H660.5M453.9 833.8H475.9M481.7 843.9H503.7M531.7 834.2H553.7M559.5 823.0H581.5M609.6 829.8H631.6M637.4 828.2H659.4" stroke="#000" stroke-width="1.7" fill="none"/>
<rect x="61.5" y="37" width="281.60" height="203.00" fill="none" stroke="#000" stroke-width="2.0"/>
<line x1="61.5" x2="343.1" y1="199.40" y2="199.40" stroke="#000" stroke-width="2.0"/>
<line x1="53.0" x2="61.5" y1="37.00" y2="37.00" stroke="#000" stroke-width="2.0"/>
<text x="51.7" y="42.80" font-size="16" text-anchor="end">4</text>
<line x1="53.0" x2="61.5" y1="77.60" y2="77.60" stroke="#000" stroke-width="2.0"/>
<text x="51.7" y="83.40" font-size="16" text-anchor="end">3</text>
<line x1="53.0" x2="61.5" y1="118.20" y2="118.20" stroke="#000" stroke-width="2.0"/>
<text x="51.7" y="124.00" font-size="16" text-anchor="end">2</text>
<line x1="53.0" x2="61.5" y1="158.80" y2="158.80" stroke="#000" stroke-width="2.0"/>
<text x="51.7" y="164.60" font-size="16" text-anchor="end">1</text>
<line x1="53.0" x2="61.5" y1="199.40" y2="199.40" stroke="#000" stroke-width="2.0"/>
<text x="51.7" y="205.20" font-size="16" text-anchor="end">0</text>
<line x1="53.0" x2="61.5" y1="240.00" y2="240.00" stroke="#000" stroke-width="2.0"/>
<text x="51.7" y="245.80" font-size="16" text-anchor="end">-1</text>
<rect x="61.5" y="266" width="281.60" height="202.50" fill="none" stroke="#000" stroke-width="2.0"/>
<line x1="53.0" x2="61.5" y1="266.00" y2="266.00" stroke="#000" stroke-width="2.0"/>
<text x="51.7" y="271.80" font-size="16" text-anchor="end">4.5</text>
<line x1="53.0" x2="61.5" y1="316.62" y2="316.62" stroke="#000" stroke-width="2.0"/>
<text x="51.7" y="322.43" font-size="16" text-anchor="end">3.5</text>
<line x1="53.0" x2="61.5" y1="367.25" y2="367.25" stroke="#000" stroke-width="2.0"/>
<text x="51.7" y="373.05" font-size="16" text-anchor="end">2.5</text>
<line x1="53.0" x2="61.5" y1="417.88" y2="417.88" stroke="#000" stroke-width="2.0"/>
<text x="51.7" y="423.68" font-size="16" text-anchor="end">1.5</text>
<line x1="53.0" x2="61.5" y1="468.50" y2="468.50" stroke="#000" stroke-width="2.0"/>
<text x="51.7" y="474.30" font-size="16" text-anchor="end">0.5</text>
<rect x="61.5" y="498" width="281.60" height="203.00" fill="none" stroke="#000" stroke-width="2.0"/>
<line x1="61.5" x2="343.1" y1="650.25" y2="650.25" stroke="#000" stroke-width="2.0"/>
<line x1="53.0" x2="61.5" y1="498.00" y2="498.00" stroke="#000" stroke-width="2.0"/>
<text x="51.7" y="503.80" font-size="16" text-anchor="end">3</text>
<line x1="53.0" x2="61.5" y1="548.75" y2="548.75" stroke="#000" stroke-width="2.0"/>
<text x="51.7" y="554.55" font-size="16" text-anchor="end">2</text>
<line x1="53.0" x2="61.5" y1="599.50" y2="599.50" stroke="#000" stroke-width="2.0"/>
<text x="51.7" y="605.30" font-size="16" text-anchor="end">1</text>
<line x1="53.0" x2="61.5" y1="650.25" y2="650.25" stroke="#000" stroke-width="2.0"/>
<text x="51.7" y="656.05" font-size="16" text-anchor="end">0</text>
<line x1="53.0" x2="61.5" y1="701.00" y2="701.00" stroke="#000" stroke-width="2.0"/>
<text x="51.7" y="706.80" font-size="16" text-anchor="end">-1</text>
<rect x="61.5" y="728" width="281.60" height="202.00" fill="none" stroke="#000" stroke-width="2.0"/>
<line x1="53.0" x2="61.5" y1="728.00" y2="728.00" stroke="#000" stroke-width="2.0"/>
<text x="51.7" y="733.80" font-size="16" text-anchor="end">95</text>
<line x1="53.0" x2="61.5" y1="768.40" y2="768.40" stroke="#000" stroke-width="2.0"/>
<text x="51.7" y="774.20" font-size="16" text-anchor="end">85</text>
<line x1="53.0" x2="61.5" y1="808.80" y2="808.80" stroke="#000" stroke-width="2.0"/>
<text x="51.7" y="814.60" font-size="16" text-anchor="end">75</text>
<line x1="53.0" x2="61.5" y1="849.20" y2="849.20" stroke="#000" stroke-width="2.0"/>
<text x="51.7" y="855.00" font-size="16" text-anchor="end">65</text>
<line x1="53.0" x2="61.5" y1="889.60" y2="889.60" stroke="#000" stroke-width="2.0"/>
<text x="51.7" y="895.40" font-size="16" text-anchor="end">55</text>
<line x1="53.0" x2="61.5" y1="930.00" y2="930.00" stroke="#000" stroke-width="2.0"/>
<text x="51.7" y="935.80" font-size="16" text-anchor="end">45</text>
<rect x="432.2" y="37" width="251.70" height="203.00" fill="none" stroke="#000" stroke-width="2.0"/>
<line x1="432.2" x2="683.9" y1="172.33" y2="172.33" stroke="#000" stroke-width="2.0"/>
<line x1="423.7" x2="432.2" y1="37.00" y2="37.00" stroke="#000" stroke-width="2.0"/>
<text x="422.4" y="42.80" font-size="16" text-anchor="end">1.0</text>
<line x1="423.7" x2="432.2" y1="104.67" y2="104.67" stroke="#000" stroke-width="2.0"/>
<text x="422.4" y="110.47" font-size="16" text-anchor="end">0.5</text>
<line x1="423.7" x2="432.2" y1="172.33" y2="172.33" stroke="#000" stroke-width="2.0"/>
<text x="422.4" y="178.13" font-size="16" text-anchor="end">0.0</text>
<line x1="423.7" x2="432.2" y1="240.00" y2="240.00" stroke="#000" stroke-width="2.0"/>
<text x="422.4" y="245.80" font-size="16" text-anchor="end">-0.5</text>
<rect x="432.2" y="266" width="250.90" height="202.00" fill="none" stroke="#000" stroke-width="2.0"/>
<line x1="432.2" x2="683.1" y1="333.33" y2="333.33" stroke="#000" stroke-width="2.0"/>
<line x1="423.7" x2="432.2" y1="266.00" y2="266.00" stroke="#000" stroke-width="2.0"/>
<text x="422.4" y="271.80" font-size="16" text-anchor="end">1</text>
<line x1="423.7" x2="432.2" y1="333.33" y2="333.33" stroke="#000" stroke-width="2.0"/>
<text x="422.4" y="339.13" font-size="16" text-anchor="end">0</text>
<line x1="423.7" x2="432.2" y1="400.67" y2="400.67" stroke="#000" stroke-width="2.0"/>
<text x="422.4" y="406.47" font-size="16" text-anchor="end">-1</text>
<line x1="423.7" x2="432.2" y1="468.00" y2="468.00" stroke="#000" stroke-width="2.0"/>
<text x="422.4" y="473.80" font-size="16" text-anchor="end">-2</text>
<rect x="432.2" y="498" width="250.50" height="202.50" fill="none" stroke="#000" stroke-width="2.0"/>
<line x1="432.2" x2="682.7" y1="565.50" y2="565.50" stroke="#000" stroke-width="2.0"/>
<line x1="423.7" x2="432.2" y1="498.00" y2="498.00" stroke="#000" stroke-width="2.0"/>
<text x="422.4" y="503.80" font-size="16" text-anchor="end">1</text>
<line x1="423.7" x2="432.2" y1="565.50" y2="565.50" stroke="#000" stroke-width="2.0"/>
<text x="422.4" y="571.30" font-size="16" text-anchor="end">0</text>
<line x1="423.7" x2="432.2" y1="633.00" y2="633.00" stroke="#000" stroke-width="2.0"/>
<text x="422.4" y="638.80" font-size="16" text-anchor="end">-1</text>
<line x1="423.7" x2="432.2" y1="700.50" y2="700.50" stroke="#000" stroke-width="2.0"/>
<text x="422.4" y="706.30" font-size="16" text-anchor="end">-2</text>
<rect x="431.6" y="728" width="250.50" height="202.00" fill="none" stroke="#000" stroke-width="2.0"/>
<line x1="431.6" x2="682.1" y1="829.00" y2="829.00" stroke="#000" stroke-width="2.0"/>
<line x1="423.1" x2="431.6" y1="728.00" y2="728.00" stroke="#000" stroke-width="2.0"/>
<text x="421.8" y="733.80" font-size="16" text-anchor="end">20</text>
<line x1="423.1" x2="431.6" y1="778.50" y2="778.50" stroke="#000" stroke-width="2.0"/>
<text x="421.8" y="784.30" font-size="16" text-anchor="end">10</text>
<line x1="423.1" x2="431.6" y1="829.00" y2="829.00" stroke="#000" stroke-width="2.0"/>
<text x="421.8" y="834.80" font-size="16" text-anchor="end">0</text>
<line x1="423.1" x2="431.6" y1="879.50" y2="879.50" stroke="#000" stroke-width="2.0"/>
<text x="421.8" y="885.30" font-size="16" text-anchor="end">-10</text>
<line x1="423.1" x2="431.6" y1="930.00" y2="930.00" stroke="#000" stroke-width="2.0"/>
<text x="421.8" y="935.80" font-size="16" text-anchor="end">-20</text>
<path d="M114.96 110.66L114.96 107.66M114.96 110.66L117.81 109.73M114.96 110.66L116.72 113.09M114.96 110.66L113.20 113.09M114.96 110.66L112.11 109.73" stroke="#000" stroke-width="1.2" stroke-linecap="round" fill="none"/>
<path d="M121.36 104.06V115.26M118.26 106.96H124.26" stroke="#000" stroke-width="1.2" fill="none"/><path d="M121.36 104.06V106.16" stroke="#000" stroke-width="1.2"/>
<path d="M182.90 81.60L182.90 78.60M182.90 81.60L185.75 80.67M182.90 81.60L184.66 84.03M182.90 81.60L181.14 84.03M182.90 81.60L180.05 80.67" stroke="#000" stroke-width="1.2" stroke-linecap="round" fill="none"/>
<path d="M189.30 75.00V86.20M186.20 77.90H192.20" stroke="#000" stroke-width="1.2" fill="none"/><path d="M189.30 75.00V77.10" stroke="#000" stroke-width="1.2"/>
<path d="M251.40 134.90L251.40 131.90M251.40 134.90L254.25 133.97M251.40 134.90L253.16 137.33M251.40 134.90L249.64 137.33M251.40 134.90L248.55 133.97" stroke="#000" stroke-width="1.2" stroke-linecap="round" fill="none"/>
<path d="M257.80 128.30V139.50M254.70 131.20H260.70" stroke="#000" stroke-width="1.2" fill="none"/><path d="M257.80 128.30V130.40" stroke="#000" stroke-width="1.2"/>
<path d="M114.90 332.30L114.90 329.30M114.90 332.30L117.75 331.37M114.90 332.30L116.66 334.73M114.90 332.30L113.14 334.73M114.90 332.30L112.05 331.37" stroke="#000" stroke-width="1.2" stroke-linecap="round" fill="none"/>
<path d="M121.30 325.70V336.90M118.20 328.60H124.20" stroke="#000" stroke-width="1.2" fill="none"/><path d="M121.30 325.70V327.80" stroke="#000" stroke-width="1.2"/>
<line x1="111.70" x2="124.40" y1="338.00" y2="338.00" stroke="#000" stroke-width="1.1"/>
<path d="M168.00 329.50L168.00 326.50M168.00 329.50L170.85 328.57M168.00 329.50L169.76 331.93M168.00 329.50L166.24 331.93M168.00 329.50L165.15 328.57" stroke="#000" stroke-width="1.2" stroke-linecap="round" fill="none"/>
<path d="M182.90 358.40L182.90 355.40M182.90 358.40L185.75 357.47M182.90 358.40L184.66 360.83M182.90 358.40L181.14 360.83M182.90 358.40L180.05 357.47" stroke="#000" stroke-width="1.2" stroke-linecap="round" fill="none"/>
<path d="M189.30 351.80V363.00M186.20 354.70H192.20" stroke="#000" stroke-width="1.2" fill="none"/><path d="M189.30 351.80V353.90" stroke="#000" stroke-width="1.2"/>
<path d="M253.60 324.90L253.60 321.90M253.60 324.90L256.45 323.97M253.60 324.90L255.36 327.33M253.60 324.90L251.84 327.33M253.60 324.90L250.75 323.97" stroke="#000" stroke-width="1.2" stroke-linecap="round" fill="none"/>
<path d="M317.40 319.00L317.40 316.00M317.40 319.00L320.25 318.07M317.40 319.00L319.16 321.43M317.40 319.00L315.64 321.43M317.40 319.00L314.55 318.07" stroke="#000" stroke-width="1.2" stroke-linecap="round" fill="none"/>
<path d="M323.80 312.40V323.60M320.70 315.30H326.70" stroke="#000" stroke-width="1.2" fill="none"/><path d="M323.80 312.40V314.50" stroke="#000" stroke-width="1.2"/>
<path d="M99.60 562.20L99.60 559.20M99.60 562.20L102.45 561.27M99.60 562.20L101.36 564.63M99.60 562.20L97.84 564.63M99.60 562.20L96.75 561.27" stroke="#000" stroke-width="1.2" stroke-linecap="round" fill="none"/>
<path d="M114.50 573.00L114.50 570.00M114.50 573.00L117.35 572.07M114.50 573.00L116.26 575.43M114.50 573.00L112.74 575.43M114.50 573.00L111.65 572.07" stroke="#000" stroke-width="1.2" stroke-linecap="round" fill="none"/>
<path d="M120.90 566.40V577.60M117.80 569.30H123.80" stroke="#000" stroke-width="1.2" fill="none"/><path d="M120.90 566.40V568.50" stroke="#000" stroke-width="1.2"/>
<path d="M167.60 589.90L167.60 586.90M167.60 589.90L170.45 588.97M167.60 589.90L169.36 592.33M167.60 589.90L165.84 592.33M167.60 589.90L164.75 588.97" stroke="#000" stroke-width="1.2" stroke-linecap="round" fill="none"/>
<path d="M182.50 616.90L182.50 613.90M182.50 616.90L185.35 615.97M182.50 616.90L184.26 619.33M182.50 616.90L180.74 619.33M182.50 616.90L179.65 615.97" stroke="#000" stroke-width="1.2" stroke-linecap="round" fill="none"/>
<path d="M188.90 610.30V621.50M185.80 613.20H191.80" stroke="#000" stroke-width="1.2" fill="none"/><path d="M188.90 610.30V612.40" stroke="#000" stroke-width="1.2"/>
<path d="M253.00 542.30L253.00 539.30M253.00 542.30L255.85 541.37M253.00 542.30L254.76 544.73M253.00 542.30L251.24 544.73M253.00 542.30L250.15 541.37" stroke="#000" stroke-width="1.2" stroke-linecap="round" fill="none"/>
<path d="M317.40 554.50L317.40 551.50M317.40 554.50L320.25 553.57M317.40 554.50L319.16 556.93M317.40 554.50L315.64 556.93M317.40 554.50L314.55 553.57" stroke="#000" stroke-width="1.2" stroke-linecap="round" fill="none"/>
<path d="M323.80 547.90V559.10M320.70 550.80H326.70" stroke="#000" stroke-width="1.2" fill="none"/><path d="M323.80 547.90V550.00" stroke="#000" stroke-width="1.2"/>
<path d="M182.90 765.80L182.90 762.80M182.90 765.80L185.75 764.87M182.90 765.80L184.66 768.23M182.90 765.80L181.14 768.23M182.90 765.80L180.05 764.87" stroke="#000" stroke-width="1.2" stroke-linecap="round" fill="none"/>
<path d="M189.30 759.20V770.40M186.20 762.10H192.20" stroke="#000" stroke-width="1.2" fill="none"/><path d="M189.30 759.20V761.30" stroke="#000" stroke-width="1.2"/>
<path d="M491.30 96.20L491.30 93.20M491.30 96.20L494.15 95.27M491.30 96.20L493.06 98.63M491.30 96.20L489.54 98.63M491.30 96.20L488.45 95.27" stroke="#000" stroke-width="1.2" stroke-linecap="round" fill="none"/>
<path d="M497.70 89.60V100.80M494.60 92.50H500.60" stroke="#000" stroke-width="1.2" fill="none"/><path d="M497.70 89.60V91.70" stroke="#000" stroke-width="1.2"/>
<line x1="488.10" x2="500.80" y1="101.50" y2="101.50" stroke="#000" stroke-width="1.1"/>
<path d="M567.90 71.00L567.90 68.00M567.90 71.00L570.75 70.07M567.90 71.00L569.66 73.43M567.90 71.00L566.14 73.43M567.90 71.00L565.05 70.07" stroke="#000" stroke-width="1.2" stroke-linecap="round" fill="none"/>
<path d="M574.30 64.40V75.60M571.20 67.30H577.20" stroke="#000" stroke-width="1.2" fill="none"/><path d="M574.30 64.40V66.50" stroke="#000" stroke-width="1.2"/>
<path d="M466.80 399.80L466.80 396.80M466.80 399.80L469.65 398.87M466.80 399.80L468.56 402.23M466.80 399.80L465.04 402.23M466.80 399.80L463.95 398.87" stroke="#000" stroke-width="1.2" stroke-linecap="round" fill="none"/>
<path d="M492.20 446.90L492.20 443.90M492.20 446.90L495.05 445.97M492.20 446.90L493.96 449.33M492.20 446.90L490.44 449.33M492.20 446.90L489.35 445.97" stroke="#000" stroke-width="1.2" stroke-linecap="round" fill="none"/>
<path d="M498.60 440.30V451.50M495.50 443.20H501.50" stroke="#000" stroke-width="1.2" fill="none"/><path d="M498.60 440.30V442.40" stroke="#000" stroke-width="1.2"/>
<path d="M572.70 443.10L572.70 440.10M572.70 443.10L575.55 442.17M572.70 443.10L574.46 445.53M572.70 443.10L570.94 445.53M572.70 443.10L569.85 442.17" stroke="#000" stroke-width="1.2" stroke-linecap="round" fill="none"/>
<path d="M647.90 453.80L647.90 450.80M647.90 453.80L650.75 452.87M647.90 453.80L649.66 456.23M647.90 453.80L646.14 456.23M647.90 453.80L645.05 452.87" stroke="#000" stroke-width="1.2" stroke-linecap="round" fill="none"/>
<path d="M654.30 447.20V458.40M651.20 450.10H657.20" stroke="#000" stroke-width="1.2" fill="none"/><path d="M654.30 447.20V449.30" stroke="#000" stroke-width="1.2"/>
<path d="M467.10 632.10L467.10 629.10M467.10 632.10L469.95 631.17M467.10 632.10L468.86 634.53M467.10 632.10L465.34 634.53M467.10 632.10L464.25 631.17" stroke="#000" stroke-width="1.2" stroke-linecap="round" fill="none"/>
<path d="M491.20 677.40L491.20 674.40M491.20 677.40L494.05 676.47M491.20 677.40L492.96 679.83M491.20 677.40L489.44 679.83M491.20 677.40L488.35 676.47" stroke="#000" stroke-width="1.2" stroke-linecap="round" fill="none"/>
<path d="M497.60 670.80V682.00M494.50 673.70H500.50" stroke="#000" stroke-width="1.2" fill="none"/><path d="M497.60 670.80V672.90" stroke="#000" stroke-width="1.2"/>
<line x1="488.00" x2="500.70" y1="683.10" y2="683.10" stroke="#000" stroke-width="1.1"/>
<path d="M572.70 670.40L572.70 667.40M572.70 670.40L575.55 669.47M572.70 670.40L574.46 672.83M572.70 670.40L570.94 672.83M572.70 670.40L569.85 669.47" stroke="#000" stroke-width="1.2" stroke-linecap="round" fill="none"/>
<path d="M647.90 683.40L647.90 680.40M647.90 683.40L650.75 682.47M647.90 683.40L649.66 685.83M647.90 683.40L646.14 685.83M647.90 683.40L645.05 682.47" stroke="#000" stroke-width="1.2" stroke-linecap="round" fill="none"/>
<path d="M654.30 676.80V688.00M651.20 679.70H657.20" stroke="#000" stroke-width="1.2" fill="none"/><path d="M654.30 676.80V678.90" stroke="#000" stroke-width="1.2"/>
<path d="M489.60 905.60L489.60 902.60M489.60 905.60L492.45 904.67M489.60 905.60L491.36 908.03M489.60 905.60L487.84 908.03M489.60 905.60L486.75 904.67" stroke="#000" stroke-width="1.2" stroke-linecap="round" fill="none"/>
<path d="M496.00 899.00V910.20M492.90 901.90H498.90" stroke="#000" stroke-width="1.2" fill="none"/><path d="M496.00 899.00V901.10" stroke="#000" stroke-width="1.2"/>
<line x1="486.40" x2="499.10" y1="911.30" y2="911.30" stroke="#000" stroke-width="1.1"/>
<path d="M646.00 101.90H653.00M645.80 105.10H652.80M648.60 98.90L647.30 107.80M651.90 98.90L650.60 107.80M645.90 109.30H653.10" stroke="#000" stroke-width="1.15" fill="none"/>
<path d="M567.00 747.40H574.00M566.80 750.60H573.80M569.60 744.40L568.30 753.30M572.90 744.40L571.60 753.30M566.90 754.90H574.10" stroke="#000" stroke-width="1.15" fill="none"/>
<path d="M644.40 760.10H651.40M644.20 763.30H651.20M647.00 757.10L645.70 766.00M650.30 757.10L649.00 766.00M644.30 767.90H651.50" stroke="#000" stroke-width="1.15" fill="none"/>
<circle cx="71.4" cy="47" r="1.85" fill="#fff" stroke="#1a1a1a" stroke-width="1.15"/>
<circle cx="71.4" cy="63" r="1.85" fill="#a8a8a8" stroke="#222" stroke-width="1.15"/>
<circle cx="71.4" cy="79.7" r="2.15" fill="#000"/>
<text x="92.3" y="52.7" font-size="13">23 <tspan font-size="9.5" dy="-4.5">o</tspan><tspan dy="4.5">C</tspan></text>
<text x="92.3" y="68.7" font-size="13">18 <tspan font-size="9.5" dy="-4.5">o</tspan><tspan dy="4.5">C</tspan></text>
<text x="92.3" y="85.4" font-size="13">15 <tspan font-size="9.5" dy="-4.5">o</tspan><tspan dy="4.5">C</tspan></text>
<circle cx="442.5" cy="47" r="1.85" fill="#a8a8a8" stroke="#222" stroke-width="1.15"/>
<circle cx="442.5" cy="63" r="2.15" fill="#000"/>
<text x="464.8" y="52.7" font-size="13">18 - 23 <tspan font-size="9.5" dy="-4.5">o</tspan><tspan dy="4.5">C</tspan></text>
<text x="464.8" y="68.7" font-size="13">15 - 23 <tspan font-size="9.5" dy="-4.5">o</tspan><tspan dy="4.5">C</tspan></text>
<text transform="translate(18.2,138.0) rotate(-90)" font-size="21.1" text-anchor="middle">BLF [ln(mmHg<tspan font-size="14.5" dy="-8">2</tspan><tspan dy="8">)]</tspan></text>
<text transform="translate(18.2,366.8) rotate(-90)" font-size="21.1" text-anchor="middle">TP [ln(ms<tspan font-size="14.5" dy="-8">2</tspan><tspan dy="8">)]</tspan></text>
<text transform="translate(18.2,599.0) rotate(-90)" font-size="21.1" text-anchor="middle">HF [ln(ms<tspan font-size="14.5" dy="-8">2</tspan><tspan dy="8">)]</tspan></text>
<text transform="translate(18.2,828.5) rotate(-90)" font-size="21.1" text-anchor="middle">LF% (nu)</text>
<text transform="translate(389.3,138.0) rotate(-90)" font-size="21.1" text-anchor="middle">&#916;BLF [ln(mmHg<tspan font-size="14.5" dy="-8">2</tspan><tspan dy="8">)]</tspan></text>
<text transform="translate(389.3,366.5) rotate(-90)" font-size="21.1" text-anchor="middle">&#916;TP [ln(ms<tspan font-size="14.5" dy="-8">2</tspan><tspan dy="8">)]</tspan></text>
<text transform="translate(389.3,598.8) rotate(-90)" font-size="21.1" text-anchor="middle">&#916;HF [ln(ms<tspan font-size="14.5" dy="-8">2</tspan><tspan dy="8">)]</tspan></text>
<text transform="translate(389.3,828.5) rotate(-90)" font-size="21.1" text-anchor="middle">&#916;LF% (nu)</text>
<text x="101" y="958.3" font-size="21" text-anchor="middle">Mix</text>
<text x="167.8" y="958.3" font-size="21" text-anchor="middle">AW</text>
<text x="235.7" y="958.3" font-size="21" text-anchor="middle">QS</text>
<text x="302.6" y="958.3" font-size="21" text-anchor="middle">PS</text>
<text x="479" y="958.3" font-size="21" text-anchor="middle">AW</text>
<text x="556.2" y="958.3" font-size="21" text-anchor="middle">QS</text>
<text x="634.4" y="958.3" font-size="21" text-anchor="middle">PS</text>
<text x="3.7" y="18.9" font-size="27">A</text>
<text x="374.0" y="20.4" font-size="27">B</text>
</svg>
</body></html>
